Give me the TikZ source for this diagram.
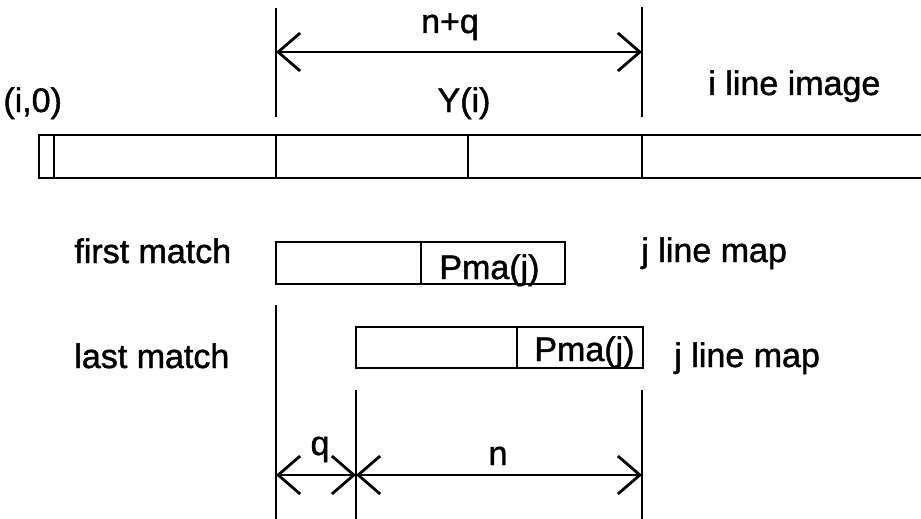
\documentclass[tikz,border=0pt]{standalone}
\usepackage{fontspec}
\setmainfont{Liberation Sans}[BoldFont={Liberation Sans},BoldFeatures={FakeBold=1.3}]
\usetikzlibrary{arrows.meta}
\begin{document}
\begin{tikzpicture}[x=1pt,y=-1pt,
  line width=2.8pt,
  rule/.style={draw=black,line cap=butt},
  barb/.tip={Straight Barb[length=22pt,width=38pt,line width=2.8pt]},
  dim/.style={draw=black,barb-barb},
  lbl/.style={inner sep=0pt,font=\fontsize{34}{40}\selectfont\bfseries}]
\useasboundingbox (0,0) rectangle (921,519);

% i line image strip (open to the right)
\draw[rule] (921,135) -- (39,135) -- (39,178) -- (921,178);
\draw[rule,line width=1.4pt] (54,135) -- (54,178);
\draw[rule] (276,135) -- (276,178);
\draw[rule] (468,135) -- (468,178);
\draw[rule] (642,135) -- (642,178);

% n+q extension lines and dimension
\coordinate (ta) at (276,8);
\coordinate (tb) at (276,117);
\coordinate (tc) at (642,7);
\coordinate (td) at (642,117);
\draw[rule] (ta) -- (tb);
\draw[rule] (tc) -- (td);
\coordinate (nqL) at (276,52);
\coordinate (nqR) at (642,52);
\draw[dim] (nqL) -- (nqR);

% first match j line map
\draw[rule] (276,242) rectangle (565,284);
\draw[rule] (421,242) -- (421,284);
% last match j line map
\draw[rule] (356,327) rectangle (643,368);
\draw[rule] (517,327) -- (517,368);

% lower extension lines
\coordinate (ba) at (276,305);
\coordinate (bb) at (276,519);
\coordinate (bc) at (356,390);
\coordinate (bd) at (356,519);
\coordinate (be) at (642,390);
\coordinate (bf) at (642,519);
\draw[rule] (ba) -- (bb);
\draw[rule] (bc) -- (bd);
\draw[rule] (be) -- (bf);

% q and n dimensions
\coordinate (qL) at (276,475);
\coordinate (qR) at (356,475);
\coordinate (nR) at (642,475);
\draw[dim] (qL) -- (qR);
\draw[dim] (qR) -- (nR);

% labels
\node[lbl,anchor=base] (tnq) at (450,33) {n+q};
\node[lbl,anchor=base] (tyi) at (464,112) {Y(i)};
\node[lbl,anchor=base west] (ti0) at (2,112) {(i,0)};
\node[lbl,anchor=base west] (tili) at (707,95) {i line image};
\node[lbl,anchor=base west] (tfm) at (73,263) {first match};
\node[lbl,anchor=base west] (tlm) at (73,368) {last match};
\node[lbl,anchor=base west] (tjl1) at (640,262) {j line map};
\node[lbl,anchor=base west] (tjl2) at (673,367) {j line map};
\node[lbl,anchor=base west] (tp1) at (438,279) {Pma(j)};
\node[lbl,anchor=base west] (tp2) at (533,361) {Pma(j)};
\node[lbl,anchor=base] (tq) at (320,455) {q};
\node[lbl,anchor=base] (tn) at (498,465) {n};
\end{tikzpicture}
\end{document}
